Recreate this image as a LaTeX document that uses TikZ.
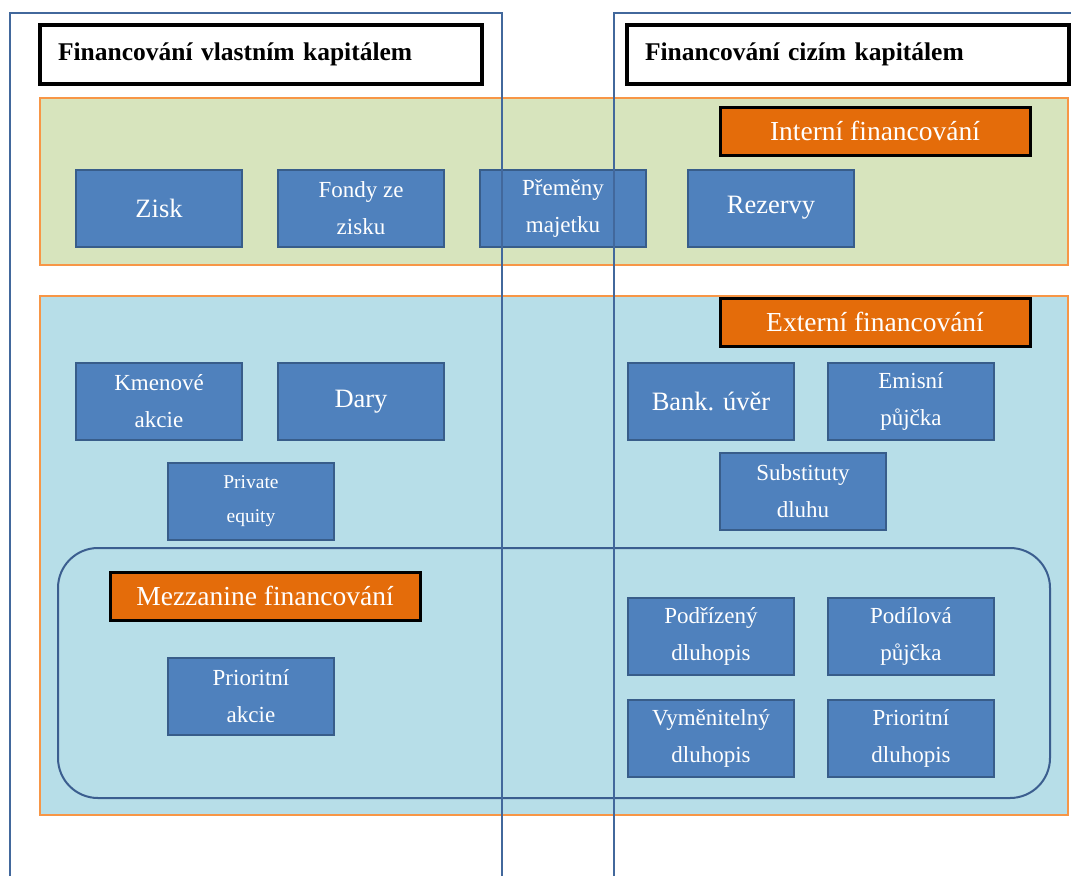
\documentclass[tikz,border=0pt]{standalone}
\usepackage{fontspec}
\setmainfont{Liberation Serif}
\definecolor{frameblue}{HTML}{42689C}
\definecolor{greenfill}{HTML}{D7E4BD}
\definecolor{orangeline}{HTML}{F79646}
\definecolor{bluefill}{HTML}{B7DEE8}
\definecolor{labelorange}{HTML}{E46C0A}
\definecolor{boxblue}{HTML}{4F81BD}
\definecolor{boxline}{HTML}{385D8A}
\definecolor{roundline}{HTML}{3B5E8F}
\tikzset{
  frameline/.style={draw=frameblue, line width=2.8pt},
  zone/.style={draw=orangeline, line width=2.5pt},
  titlebox/.style={draw=black, line width=3.2pt, fill=white, minimum width=442pt, minimum height=59pt, inner sep=0pt, text width=406pt, align=left, font=\fontsize{25.5}{28}\selectfont\bfseries},
  labelbox/.style={draw=black, line width=3pt, fill=labelorange, minimum width=310pt, minimum height=48pt, inner sep=0pt, text=white, font=\fontsize{27.5}{30}\selectfont},
  bluebox/.style={draw=boxline, line width=2pt, fill=boxblue, minimum width=166pt, minimum height=77pt, inner sep=0pt, text=white, align=center},
  big/.style={font=\fontsize{26.5}{30}\selectfont},
  two/.style={font=\fontsize{23}{37}\selectfont},
  small/.style={font=\fontsize{19.5}{34}\selectfont},
}
\begin{document}
\begin{tikzpicture}[x=1pt,y=-1pt]
\useasboundingbox (0,0) rectangle (1071,876);
\fill[white] (0,0) rectangle (1071,876);
% zones
\draw[zone, fill=greenfill] (40,98) rectangle (1068,265);
\draw[zone, fill=bluefill] (40,296) rectangle (1068,815);
\draw[draw=roundline, line width=2pt, rounded corners=40pt] (58,548) rectangle (1050,798);
% titles
\node[titlebox] (tl) at (261,54.5) {Financování vlastním kapitálem};
\node[titlebox] (tr) at (848,54.5) {Financování cizím kapitálem};
% labels
\node[labelbox] (intern) at (875,131) {Interní financování};
\node[labelbox] (extern) at (875,322) {Externí financování};
\node[labelbox] (mezz) at (265,596) {Mezzanine financování};
% internal
\node[bluebox, big] (zisk) at (159,208) {Zisk};
\node[bluebox, two] (fondy) at (361,208) {Fondy ze\\zisku};
\node[bluebox, two] (premeny) at (563,208) {Přeměny\\majetku};
\node[bluebox, big] (rezervy) at (771,208) {Rezervy};
% external equity
\node[bluebox, two] (kmen) at (159,401.5) {Kmenové\\akcie};
\node[bluebox, big] (dary) at (361,401.5) {Dary};
\node[bluebox, small] (pe) at (251,501) {Private\\equity};
% external debt
\node[bluebox, big] (bank) at (711,401.5) {Bank. úvěr};
\node[bluebox, two] (emisni) at (911,401.5) {Emisní\\půjčka};
\node[bluebox, two] (subst) at (803,491.5) {Substituty\\dluhu};
% mezzanine
\node[bluebox, two] (prak) at (251,696) {Prioritní\\akcie};
\node[bluebox, two] (podr) at (711,636.5) {Podřízený\\dluhopis};
\node[bluebox, two] (podil) at (911,636.5) {Podílová\\půjčka};
\node[bluebox, two] (vym) at (711,738.5) {Vyměnitelný\\dluhopis};
\node[bluebox, two] (prdl) at (911,738.5) {Prioritní\\dluhopis};
% frames on top
\draw[frameline] (10,876) -- (10,13) -- (502,13) -- (502,876);
\draw[frameline] (614,876) -- (614,13) -- (1072,13);
\end{tikzpicture}
\end{document}
